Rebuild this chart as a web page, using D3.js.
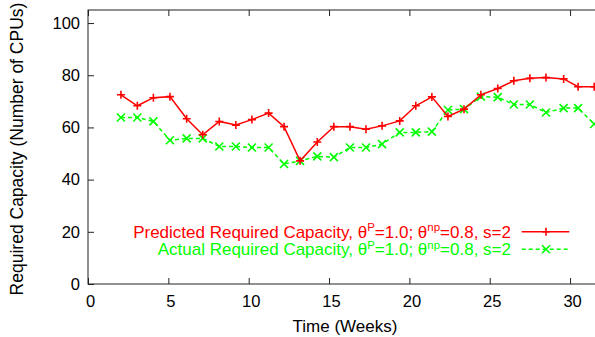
<!DOCTYPE html>
<html>
<head>
<meta charset="utf-8">
<script src="https://cdn.jsdelivr.net/npm/d3@7"></script>
<style>
  html, body { margin: 0; padding: 0; background: #fff; }
  svg { display: block; font-family: "Liberation Sans", Arial, sans-serif; }
</style>
</head>
<body>
<svg id="chart" width="595" height="337"></svg>
<script>
// week positions (roughly one per week)
const weeks = [2.05, 3.07, 4.07, 5.1, 6.14, 7.14, 8.17, 9.2, 10.2, 11.24,
  12.2, 13.2, 14.27, 15.3, 16.3, 17.3, 18.3, 19.4, 20.4, 21.4,
  22.4, 23.4, 24.45, 25.5, 26.5, 27.5, 28.5, 29.6, 30.5, 31.5];
const predicted = [72.5, 68.3, 71.4, 71.8, 63.3, 57.2, 62.3, 60.9, 63.0, 65.5,
  60.3, 47.2, 54.4, 60.3, 60.3, 59.3, 60.6, 62.5, 68.3, 71.7,
  64.2, 67.0, 72.5, 74.9, 77.9, 78.8, 79.1, 78.6, 75.6, 75.6];
const actual = [63.8, 63.8, 62.3, 55.1, 55.8, 55.8, 52.7, 52.7, 52.3, 52.3,
  46.0, 47.2, 48.9, 48.6, 52.3, 52.3, 53.6, 58.1, 58.1, 58.4,
  66.7, 67.0, 71.8, 71.6, 68.8, 68.8, 65.7, 67.4, 67.4, 61.3];
const xTicks = [0, 5, 10, 15, 20, 25, 30];
const yTicks = [0, 20, 40, 60, 80, 100];

const svg = d3.select("#chart");
const L = 88, R = 602.2, T = 10, B = 284;
const x = d3.scaleLinear().domain([0, 32]).range([L, R]);
const y = d3.scaleLinear().domain([0, 105]).range([B, T]);
const AX = "#222", FS = 16.5, FL = 17;

// frame
svg.append("rect")
  .attr("x", L).attr("y", T).attr("width", R - L).attr("height", B - T)
  .attr("fill", "none").attr("stroke", AX).attr("stroke-width", 1);

// ticks, drawn inward on all sides (gnuplot style)
const gx = svg.append("g").attr("transform", `translate(0,${B})`)
  .call(d3.axisBottom(x).tickValues(xTicks).tickSizeInner(-6).tickSizeOuter(0).tickPadding(11));
const gxTop = svg.append("g").attr("transform", `translate(0,${T})`)
  .call(d3.axisTop(x).tickValues(xTicks).tickSizeInner(-6).tickSizeOuter(0).tickFormat(""));
const gy = svg.append("g").attr("transform", `translate(${L},0)`)
  .call(d3.axisLeft(y).tickValues(yTicks).tickSizeInner(-6).tickSizeOuter(0).tickPadding(8));
const gyR = svg.append("g").attr("transform", `translate(${R},0)`)
  .call(d3.axisRight(y).tickValues(yTicks).tickSizeInner(-6).tickSizeOuter(0).tickFormat(""));
[gx, gxTop, gy, gyR].forEach((g) => {
  g.select(".domain").remove();
  g.selectAll("line").attr("stroke", AX);
  g.selectAll("text").attr("fill", "#000").attr("font-size", FS)
    .attr("font-family", "'Liberation Sans', Arial, sans-serif");
});
gx.selectAll("text").attr("dx", 2);

// axis titles
svg.append("text").attr("x", 345).attr("y", 332).attr("text-anchor", "middle")
  .attr("font-size", FL).text("Time (Weeks)");
svg.append("text").attr("transform", "translate(23,149) rotate(-90)")
  .attr("text-anchor", "middle").attr("font-size", 17.5)
  .text("Required Capacity (Number of CPUs)");

svg.append("defs").append("clipPath").attr("id", "plotClip")
  .append("rect").attr("x", L).attr("y", T).attr("width", R - L).attr("height", B - T);

const line = d3.line().x((d) => x(d[0])).y((d) => y(d[1]));
const series = [
  { vals: predicted, color: "#ff0000", dash: null, mark: "plus" },
  { vals: actual, color: "#00ff00", dash: "4,3", mark: "cross" },
];

function marker(g, cx, cy, kind, color) {
  const s = 4;
  const p = kind === "plus"
    ? `M${cx - s},${cy}H${cx + s}M${cx},${cy - s}V${cy + s}`
    : `M${cx - s},${cy - s}L${cx + s},${cy + s}M${cx - s},${cy + s}L${cx + s},${cy - s}`;
  g.append("path").attr("d", p).attr("stroke", color).attr("stroke-width", 1.6).attr("fill", "none");
}

const gPlot = svg.append("g").attr("clip-path", "url(#plotClip)");
// draw actual first, then predicted on top
[series[1], series[0]].forEach((s) => {
  const pts = weeks.map((w, i) => [w, s.vals[i]]);
  gPlot.append("path").attr("d", line(pts)).attr("fill", "none")
    .attr("stroke", s.color).attr("stroke-width", 1.5)
    .attr("stroke-dasharray", s.dash);
  pts.forEach((p) => marker(gPlot, x(p[0]), y(p[1]), s.mark, s.color));
});

// legend
const legendText = ["Predicted Required Capacity", "Actual Required Capacity"];
const lg = svg.append("g");
[series[0], series[1]].forEach((s, i) => {
  const ly = 231.7 + i * 17.6;
  const t = lg.append("text").attr("x", 511).attr("y", ly + 6).attr("text-anchor", "end")
    .attr("font-size", FL).attr("fill", s.color);
  t.append("tspan").text(legendText[i] + ", \u03b8");
  t.append("tspan").attr("font-size", 11.5).attr("dy", -6.5).text("P");
  t.append("tspan").attr("dy", 6.5).text("=1.0; \u03b8");
  t.append("tspan").attr("font-size", 11.5).attr("dy", -6.5).text("np");
  t.append("tspan").attr("dy", 6.5).text("=0.8, s=2");
  lg.append("line").attr("x1", 521.7).attr("x2", 569.3).attr("y1", ly).attr("y2", ly)
    .attr("stroke", s.color).attr("stroke-width", 1.5).attr("stroke-dasharray", s.dash);
  marker(lg, 546, ly, s.mark, s.color);
});
</script>
</body>
</html>
